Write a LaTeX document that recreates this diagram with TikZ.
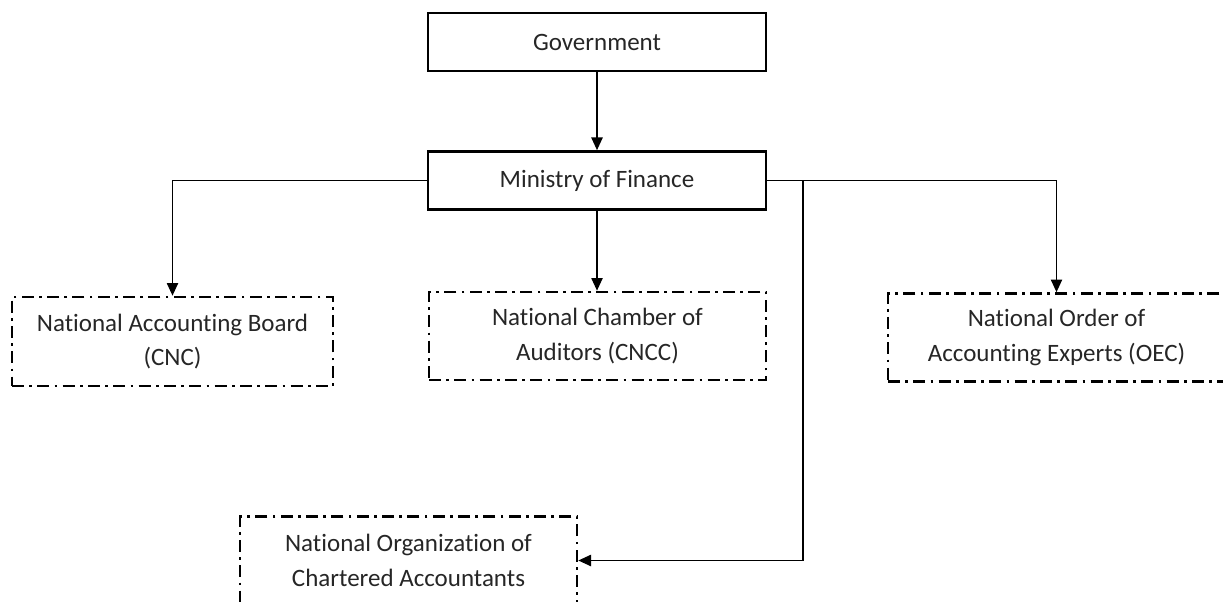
\documentclass[tikz,border=0pt]{standalone}
\usepackage{fontspec}
\setmainfont{Carlito}[Ligatures=NoCommon]
\usepackage{tikz}
\usetikzlibrary{arrows.meta}

\begin{document}
\begin{tikzpicture}[x=0.75pt,y=-0.75pt,
    mainbox/.style={draw,line width=2pt,minimum width=253.5pt,minimum height=43.5pt,
        text=black!85,font=\fontsize{18.75pt}{26pt}\selectfont},
    orgbox/.style={draw,line width=2pt,dash pattern=on 9pt off 4pt on 2pt off 4pt,
        minimum width=252.75pt,minimum height=66pt,align=center,
        text=black!85,font=\fontsize{18.75pt}{26pt}\selectfont},
    link/.style={line width=1pt,-{Triangle[length=9.5pt,width=8.5pt]}}]

\useasboundingbox (0,0) rectangle (1223,602);

\node[mainbox] (gov) at (597,42) {Government};
\node[mainbox] (mof) at (597,180.5) {Ministry of Finance};

\node[orgbox,minimum width=240.75pt,minimum height=66.75pt] (cnc) at (172.5,341.5)
    {National Accounting Board\\(CNC)};
\node[orgbox] (cncc) at (597.5,336) {National Chamber of\\Auditors (CNCC)};
\node[orgbox] (oec) at (1056.5,337.5) {National Order of\\Accounting Experts (OEC)};
\node[orgbox] (noca) at (408.5,560.5) {National Organization of\\Chartered Accountants};

\draw[link] (gov) -- (mof);
\draw[link] (mof.west) -| (cnc.north);
\draw[link] (mof.south) -- (mof.south |- cncc.north);
\draw[link] (mof.east) -| (oec.north);

% branch down to the bottom box
\coordinate (split) at (803,180.5);
\draw[link] (split) |- (noca.east);

\end{tikzpicture}
\end{document}
